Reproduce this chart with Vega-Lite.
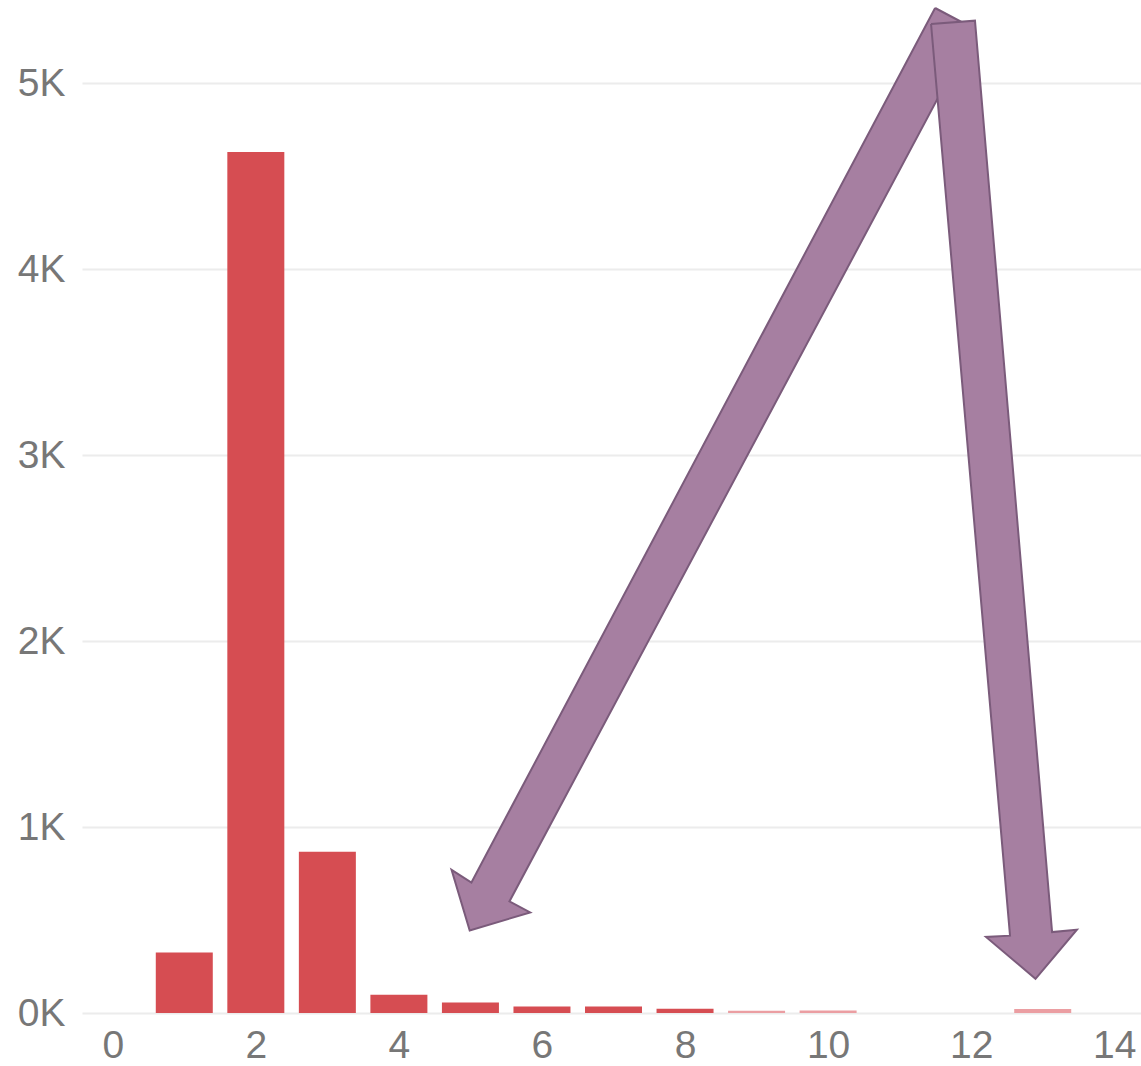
{
  "$schema": "https://vega.github.io/schema/vega-lite/v6.json",
  "width": 1059,
  "height": 1013,
  "autosize": {"type": "none"},
  "padding": {"left": 82, "top": 0, "right": 0, "bottom": 53},
  "background": "white",
  "config": {"view": {"stroke": null}},
  "datasets": {
    "bars": [
      {"x": 1, "count": 326},
      {"x": 2, "count": 4630},
      {"x": 3, "count": 867},
      {"x": 4, "count": 98},
      {"x": 5, "count": 57},
      {"x": 6, "count": 35},
      {"x": 7, "count": 35},
      {"x": 8, "count": 23},
      {"x": 9, "count": 12},
      {"x": 10, "count": 13},
      {"x": 13, "count": 22}
    ],
    "arrows": [
      {"arrow": "a", "i": 0, "x": 11.496, "y": 5405},
      {"arrow": "a", "i": 1, "x": 5.014, "y": 702},
      {"arrow": "a", "i": 2, "x": 4.736, "y": 770},
      {"arrow": "a", "i": 3, "x": 4.990, "y": 444},
      {"arrow": "a", "i": 4, "x": 5.835, "y": 541},
      {"arrow": "a", "i": 5, "x": 5.545, "y": 600},
      {"arrow": "a", "i": 6, "x": 12.050, "y": 5292},
      {"arrow": "a", "i": 7, "x": 11.496, "y": 5405},
      {"arrow": "b", "i": 0, "x": 11.439, "y": 5319},
      {"arrow": "b", "i": 1, "x": 12.543, "y": 416},
      {"arrow": "b", "i": 2, "x": 12.207, "y": 409},
      {"arrow": "b", "i": 3, "x": 12.899, "y": 184},
      {"arrow": "b", "i": 4, "x": 13.478, "y": 448},
      {"arrow": "b", "i": 5, "x": 13.131, "y": 435},
      {"arrow": "b", "i": 6, "x": 12.053, "y": 5337},
      {"arrow": "b", "i": 7, "x": 11.439, "y": 5319}
    ]
  },
  "layer": [
    {
      "data": {"name": "bars"},
      "mark": {"type": "bar", "size": 57},
      "encoding": {
        "x": {
          "field": "x",
          "type": "quantitative",
          "scale": {"domain": [-0.36, 14.304], "nice": false, "zero": false},
          "axis": {
            "values": [0, 2, 4, 6, 8, 10, 12, 14],
            "format": "d",
            "grid": false,
            "domain": false,
            "ticks": false,
            "title": null,
            "labelFont": "Liberation Sans",
            "labelFontSize": 39,
            "labelColor": "#777777",
            "labelPadding": 13,
            "labelFlush": false,
            "labelOverlap": false
          }
        },
        "y": {
          "field": "count",
          "type": "quantitative",
          "scale": {"domain": [0, 5448], "nice": false},
          "axis": {
            "values": [0, 1000, 2000, 3000, 4000, 5000],
            "labelExpr": "datum.value / 1000 + 'K'",
            "grid": true,
            "gridColor": "#ececec",
            "gridWidth": 2,
            "domain": false,
            "ticks": false,
            "title": null,
            "labelFont": "Liberation Sans",
            "labelFontSize": 39,
            "labelColor": "#777777",
            "labelPadding": 17,
            "labelOverlap": false
          }
        },
        "color": {
          "condition": {"test": "datum.x >= 9", "value": "#eb9ea2"},
          "value": "#d64d52"
        }
      }
    },
    {
      "data": {"name": "arrows"},
      "mark": {"type": "line", "fill": "#a67fa1", "stroke": "#7b5b7b", "strokeWidth": 2, "strokeJoin": "miter"},
      "encoding": {
        "x": {"field": "x", "type": "quantitative"},
        "y": {"field": "y", "type": "quantitative"},
        "detail": {"field": "arrow"},
        "order": {"field": "i", "type": "quantitative"}
      }
    }
  ]
}
